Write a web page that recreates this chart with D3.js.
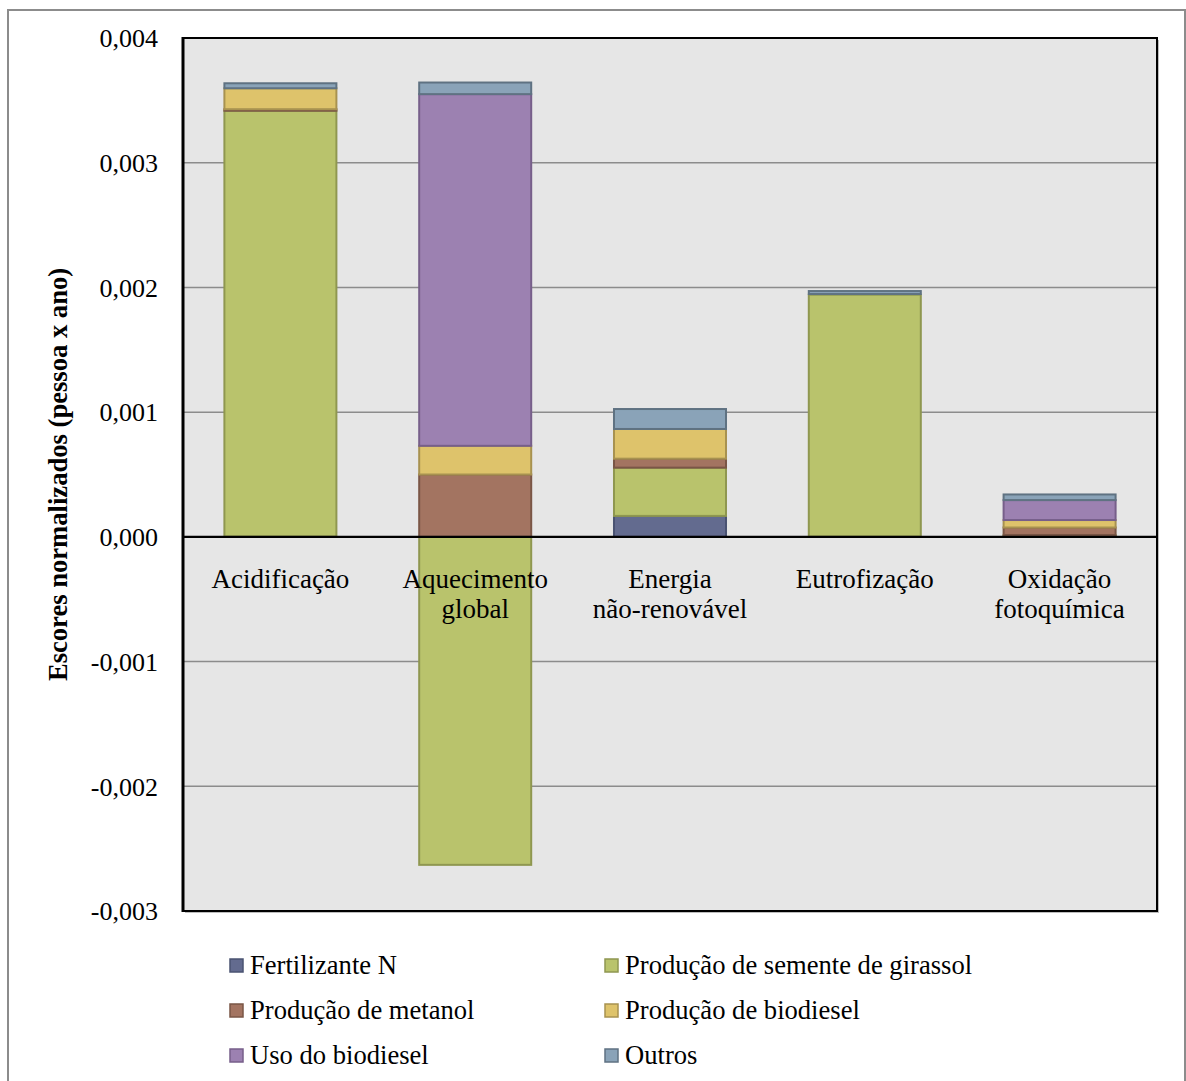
<!DOCTYPE html>
<html>
<head>
<meta charset="utf-8">
<script src="https://cdn.jsdelivr.net/npm/d3@7"></script>
<style>
  html, body { margin: 0; padding: 0; background: #ffffff; }
  svg { display: block; }
  text { font-family: "Liberation Serif", "Times New Roman", serif; fill: #000; }
</style>
</head>
<body>
<script>
// ---- data ----
const categories = ["Acidificação", "Aquecimento global", "Energia não-renovável", "Eutrofização", "Oxidação fotoquímica"];
const categoryLines = [["Acidificação"], ["Aquecimento", "global"], ["Energia", "não-renovável"], ["Eutrofização"], ["Oxidação", "fotoquímica"]];
const seriesNames = ["Fertilizante N", "Produção de semente de girassol", "Produção de metanol", "Produção de biodiesel", "Uso do biodiesel", "Outros"];
const fertilizanteN   = [0.000002, 0.0,      0.000168, 0.000002, 0.000005];
const sementeGirassol = [0.003415, -0.00263, 0.000387, 0.00194,  0.00001];
const metanol         = [0.000012, 0.0005,   0.000072, 0.000002, 0.00006];
const biodiesel       = [0.000168, 0.00023,  0.000238, 0.000003, 0.00006];
const usoBiodiesel    = [0.0,      0.00282,  0.0,      0.0,      0.00016];
const outros          = [0.00004,  0.000093, 0.00016,  0.000024, 0.000045];
const yTicks = [-0.003, -0.002, -0.001, 0, 0.001, 0.002, 0.003, 0.004];

const fills   = ["#636b8f", "#b9c36c", "#a37461", "#dec36b", "#9c81b1", "#8aa3b8"];
const strokes = ["#4a5372", "#8f9750", "#7a5646", "#a89250", "#775f8a", "#5f7282"];

const seriesValues = [fertilizanteN, sementeGirassol, metanol, biodiesel, usoBiodiesel, outros];
const table = categories.map((c, i) => {
  const row = { category: c };
  seriesNames.forEach((s, j) => { row[s] = seriesValues[j][i]; });
  return row;
});

const W = 1186, H = 1081;
const plot = { left: 183, right: 1157, top: 38, bottom: 911 };
const FONT = 26;

const svg = d3.select("body").append("svg").attr("width", W).attr("height", H);

// outer frame
svg.append("rect").attr("x", 8).attr("y", 10).attr("width", 1177).attr("height", H + 10)
  .attr("fill", "#fff").attr("stroke", "#8c8c8c").attr("stroke-width", 2);

const x = d3.scaleBand().domain(categories).range([plot.left, plot.right])
  .paddingInner(0.425).paddingOuter(0.2125);
const y = d3.scaleLinear().domain([-0.003, 0.004]).range([plot.bottom, plot.top]);

// plot background with shadow
svg.append("rect").attr("x", plot.left + 2).attr("y", plot.top + 2)
  .attr("width", plot.right - plot.left).attr("height", plot.bottom - plot.top)
  .attr("fill", "#bdbdbd");
svg.append("rect").attr("x", plot.left).attr("y", plot.top)
  .attr("width", plot.right - plot.left).attr("height", plot.bottom - plot.top)
  .attr("fill", "#e6e6e6");

// gridlines
svg.append("g").selectAll("line").data(yTicks.filter(t => t !== 0 && t !== 0.004 && t !== -0.003)).join("line")
  .attr("x1", plot.left).attr("x2", plot.right)
  .attr("y1", d => y(d)).attr("y2", d => y(d))
  .attr("stroke", "#8c8c8c").attr("stroke-width", 1.5);

// bars
const stack = d3.stack().keys(seriesNames).offset(d3.stackOffsetDiverging);
const stacked = stack(table);
const barG = svg.append("g");
stacked.forEach((layer, j) => {
  barG.append("g").selectAll("rect").data(layer).join("rect")
    .attr("x", d => x(d.data.category))
    .attr("width", x.bandwidth())
    .attr("y", d => y(Math.max(d[0], d[1])))
    .attr("height", d => Math.abs(y(d[0]) - y(d[1])))
    .attr("fill", fills[j])
    .attr("stroke", strokes[j])
    .attr("stroke-width", d => Math.abs(y(d[0]) - y(d[1])) > 0.5 ? 2 : 0);
});

// zero line
svg.append("line").attr("x1", plot.left).attr("x2", plot.right)
  .attr("y1", y(0)).attr("y2", y(0)).attr("stroke", "#000").attr("stroke-width", 2.2);

// plot frame
svg.append("rect").attr("x", plot.left).attr("y", plot.top)
  .attr("width", plot.right - plot.left).attr("height", plot.bottom - plot.top)
  .attr("fill", "none").attr("stroke", "#000").attr("stroke-width", 2);
svg.append("line").attr("x1", plot.left).attr("x2", plot.left)
  .attr("y1", plot.top - 1).attr("y2", plot.bottom + 1).attr("stroke", "#000").attr("stroke-width", 3);

// y axis
const locale = d3.formatLocale({ decimal: ",", thousands: ".", grouping: [3], currency: ["", ""], minus: "-" });
const fmt = locale.format(".3f");
const yAxis = svg.append("g").attr("transform", `translate(${plot.left},0)`)
  .call(d3.axisLeft(y).tickValues(yTicks).tickFormat(fmt).tickSize(0).tickPadding(25));
yAxis.select(".domain").remove();
yAxis.selectAll("text").attr("font-size", FONT).attr("font-family", '"Liberation Serif", "Times New Roman", serif')
  .attr("fill", "#000").attr("dy", "0.34em");

// category labels
const catG = svg.append("g");
categories.forEach((c, i) => {
  const t = catG.append("text").attr("x", x(c) + x.bandwidth() / 2).attr("y", 588)
    .attr("text-anchor", "middle").attr("font-size", 27);
  categoryLines[i].forEach((ln, k) => {
    t.append("tspan").attr("x", x(c) + x.bandwidth() / 2).attr("dy", k === 0 ? 0 : 29.5).text(ln);
  });
});

// y title
svg.append("text").attr("transform", `translate(67,${(plot.top + plot.bottom) / 2}) rotate(-90)`)
  .attr("text-anchor", "middle").attr("font-size", 26.6).attr("font-weight", "bold")
  .text("Escores normalizados (pessoa x ano)");

// legend
const legendPos = [[229, 965], [604, 965], [229, 1010], [604, 1010], [229, 1055], [604, 1055]];
const lg = svg.append("g");
seriesNames.forEach((s, j) => {
  const [lx, ly] = legendPos[j];
  lg.append("rect").attr("x", lx + 1).attr("y", ly - 6).attr("width", 13).attr("height", 13)
    .attr("fill", fills[j]).attr("stroke", strokes[j]).attr("stroke-width", 1.5);
  lg.append("text").attr("x", lx + 21).attr("y", ly).attr("dy", "0.34em")
    .attr("font-size", 26.6).text(s);
});
</script>
</body>
</html>
